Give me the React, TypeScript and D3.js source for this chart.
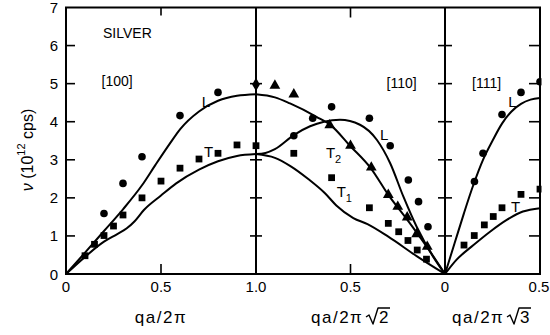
import React from 'react';
import * as d3 from 'd3';

type Pt = [number, number];

// Measured frequencies (10^12 cps) along the three symmetry directions
const l100Obs: Pt[] = [[0.2, 1.59], [0.3, 2.38], [0.4, 3.08], [0.6, 4.16], [0.8, 4.77]];
const t100Obs: Pt[] = [[0.1, 0.48], [0.15, 0.78], [0.2, 1.01], [0.25, 1.26], [0.3, 1.55], [0.4, 2.0], [0.5, 2.44], [0.6, 2.78], [0.7, 3.02], [0.8, 3.17], [0.9, 3.39], [1.0, 3.37]];
const zonePointObs: Pt[] = [[1.0, 4.98]];

const l110Obs: Pt[] = [[0.8, 3.63], [0.7, 4.09], [0.6, 4.39], [0.4, 4.09], [0.29, 3.37], [0.194, 2.47], [0.14, 1.9], [0.09, 1.24]];
const t2110Obs: Pt[] = [[0.9, 4.95], [0.8, 4.72], [0.61, 3.91], [0.5, 3.37], [0.39, 2.8], [0.3, 2.08], [0.25, 1.77], [0.2, 1.49], [0.15, 1.05], [0.094, 0.72]];
const t1110Obs: Pt[] = [[0.8, 3.17], [0.6, 2.53], [0.4, 1.74], [0.3, 1.33], [0.245, 1.11], [0.196, 0.88], [0.147, 0.63], [0.098, 0.39]];

const l111Obs: Pt[] = [[0.155, 2.43], [0.2, 3.17], [0.3, 4.19], [0.4, 4.77], [0.5, 5.05]];
const t111Obs: Pt[] = [[0.1, 0.76], [0.154, 1.01], [0.207, 1.29], [0.254, 1.51], [0.3, 1.74], [0.4, 2.09], [0.5, 2.23]];

// Model dispersion curves
const l100Fit: Pt[] = [[0, 0], [0.1, 0.56], [0.2, 1.13], [0.3, 1.7], [0.4, 2.33], [0.47, 2.86], [0.55, 3.45], [0.6, 3.8], [0.7, 4.27], [0.8, 4.55], [0.9, 4.68], [1.0, 4.72]];
const t100Fit: Pt[] = [[0, 0], [0.1, 0.45], [0.2, 0.85], [0.27, 1.05], [0.32, 1.2], [0.36, 1.38], [0.41, 1.68], [0.5, 2.06], [0.58, 2.38], [0.7, 2.74], [0.8, 2.96], [0.9, 3.1], [1.0, 3.15]];

const l110Fit: Pt[] = [[1.0, 3.15], [0.95, 3.18], [0.9, 3.28], [0.8, 3.65], [0.714, 3.88], [0.64, 4.0], [0.556, 4.05], [0.45, 3.92], [0.36, 3.52], [0.29, 2.91], [0.22, 2.03], [0.15, 1.24], [0.062, 0.45], [0, 0]];
const t2110Fit: Pt[] = [[1.0, 4.72], [0.9, 4.64], [0.82, 4.48], [0.68, 4.13], [0.605, 3.91], [0.503, 3.37], [0.393, 2.78], [0.3, 2.08], [0.2, 1.43], [0.094, 0.7], [0, 0]];
const t1110Fit: Pt[] = [[1.0, 3.15], [0.9, 3.05], [0.82, 2.84], [0.72, 2.48], [0.635, 2.12], [0.575, 1.8], [0.485, 1.47], [0.41, 1.31], [0.3, 0.98], [0.15, 0.47], [0, 0]];

const l111Fit: Pt[] = [[0, 0], [0.05, 0.8], [0.1, 1.6], [0.15, 2.35], [0.2, 3.0], [0.25, 3.5], [0.3, 3.95], [0.35, 4.27], [0.4, 4.47], [0.45, 4.58], [0.5, 4.62]];
const t111Fit: Pt[] = [[0, 0], [0.06, 0.37], [0.15, 0.76], [0.237, 1.11], [0.325, 1.42], [0.41, 1.64], [0.5, 1.73]];

const yTickValues = [0, 1, 2, 3, 4, 5, 6, 7];
const x100Labels = [0, 0.5, 1.0];
const x110Labels = [0.5, 0];
const x111Labels = [0.5];

const FONT = '"Liberation Sans", Arial, Helvetica, sans-serif';

// Axis title of the form qa/2π√n, with a drawn radical sign and vinculum
function RootTitle({ x, n }: { x: number; n: string }) {
  const base = 323;
  return (
    <g>
      <text x={x} y={base} fontFamily={FONT} fontSize={17} letterSpacing={1.5}>qa/2π</text>
      <path
        d={`M${x + 55},${base - 6} L${x + 58},${base - 8} L${x + 62},${base + 1} L${x + 67},${base - 15} L${x + 79},${base - 15}`}
        fill="none" stroke="#000" strokeWidth={1.4} strokeLinejoin="round"
      />
      <text x={x + 68} y={base} fontFamily={FONT} fontSize={17}>{n}</text>
    </g>
  );
}

export default function App() {
  const y = d3.scaleLinear().domain([0, 7]).range([274, 7.5]);
  const x100 = d3.scaleLinear().domain([0, 1]).range([66, 256]);
  const x110 = d3.scaleLinear().domain([1, 0]).range([256, 445]);
  const x111 = d3.scaleLinear().domain([0, 0.5]).range([445, 540]);

  const left = x100(0);
  const mid1 = x100(1);
  const mid2 = x111(0);
  const right = x111(0.5);
  const top = y(7);
  const bottom = y(0);

  const lineOf = (xs: d3.ScaleLinear<number, number>) =>
    d3.line<Pt>().x(d => xs(d[0])).y(d => y(d[1])).curve(d3.curveMonotoneX);

  const curves: { data: Pt[]; xs: d3.ScaleLinear<number, number> }[] = [
    { data: l100Fit, xs: x100 },
    { data: t100Fit, xs: x100 },
    { data: l110Fit, xs: x110 },
    { data: t2110Fit, xs: x110 },
    { data: t1110Fit, xs: x110 },
    { data: l111Fit, xs: x111 },
    { data: t111Fit, xs: x111 },
  ];

  const tri = d3.symbol().type(d3.symbolTriangle).size(50)() as string;
  const sq = d3.symbol().type(d3.symbolSquare).size(46)() as string;
  const dia = d3.symbol().type(d3.symbolDiamond).size(52)() as string;

  const circles = (data: Pt[], xs: d3.ScaleLinear<number, number>, key: string) =>
    data.map((d, i) => <circle key={key + i} cx={xs(d[0])} cy={y(d[1])} r={3.8} fill="#000" />);
  const symbols = (data: Pt[], xs: d3.ScaleLinear<number, number>, path: string, key: string) =>
    data.map((d, i) => <path key={key + i} d={path} transform={`translate(${xs(d[0])},${y(d[1])})`} fill="#000" />);

  const inner = yTickValues.filter(v => v > 0 && v < 7);

  const label = (xs: d3.ScaleLinear<number, number>, q: number, v: number, text: string, sub?: string) => (
    <text x={xs(q)} y={y(v)} fontSize={15} fontFamily={FONT}>
      {text}
      {sub && <tspan fontSize={11} dy={5}>{sub}</tspan>}
    </text>
  );

  return (
    <svg width={550} height={335} style={{ position: 'absolute', left: 0, top: 0, background: '#fff' }}>
      <defs>
        <clipPath id="plotArea">
          <rect x={left} y={top - 10} width={right - left + 1.5} height={bottom - top + 20} />
        </clipPath>
      </defs>
      <rect width={550} height={335} fill="#fff" />

      {/* frame and panel separators */}
      <g stroke="#000" strokeWidth={2} fill="none">
        <rect x={left} y={top} width={right - left} height={bottom - top} />
        <line x1={mid1} x2={mid1} y1={top} y2={bottom} />
        <line x1={mid2} x2={mid2} y1={top} y2={bottom} />
      </g>

      {/* tick marks */}
      <g stroke="#000" strokeWidth={1.6}>
        {inner.map(v => (
          <g key={'t' + v}>
            <line x1={left} x2={left + 9} y1={y(v)} y2={y(v)} />
            <line x1={mid1 - 6} x2={mid1 + 6} y1={y(v)} y2={y(v)} />
            <line x1={mid2 - 7} x2={mid2 + 7} y1={y(v)} y2={y(v)} />
            <line x1={right - 11} x2={right} y1={y(v)} y2={y(v)} />
          </g>
        ))}
        <line x1={x100(0.5)} x2={x100(0.5)} y1={bottom} y2={bottom - 10} />
        <line x1={x110(0.5)} x2={x110(0.5)} y1={bottom} y2={bottom - 10} />
        <line x1={x100(0.5)} x2={x100(0.5)} y1={top} y2={top + 8} />
        <line x1={x110(0.5)} x2={x110(0.5)} y1={top} y2={top + 10} />
      </g>

      {/* y tick labels */}
      <g fontFamily={FONT} fontSize={15} textAnchor="end">
        {yTickValues.map(v => (
          <text key={'yl' + v} x={left - 8} y={y(v) + 5.5}>{v}</text>
        ))}
      </g>

      {/* x tick labels */}
      <g fontFamily={FONT} fontSize={15} textAnchor="middle">
        {x100Labels.map(v => <text key={'a' + v} x={x100(v)} y={292}>{v.toFixed(v === 0 ? 0 : 1)}</text>)}
        {x110Labels.map(v => <text key={'b' + v} x={x110(v)} y={292}>{v === 0 ? '0' : v.toFixed(1)}</text>)}
        {x111Labels.map(v => <text key={'c' + v} x={x111(v) - 1} y={292}>{v.toFixed(1)}</text>)}
      </g>

      {/* axis titles */}
      <text x={161} y={323} fontFamily={FONT} fontSize={17} textAnchor="middle" letterSpacing={1.5}>qa/2π</text>
      <RootTitle x={311} n="2" />
      <RootTitle x={452} n="3" />
      <text transform="translate(33,150) rotate(-90)" textAnchor="middle" fontFamily={FONT} fontSize={16}>
        <tspan fontStyle="italic">ν</tspan> (10<tspan fontSize={11} dy={-8}>12</tspan><tspan dy={8}> cps)</tspan>
      </text>

      {/* panel titles */}
      <g fontFamily={FONT} fontSize={14}>
        <text x={103} y={38}>SILVER</text>
        <text x={101.5} y={86}>[100]</text>
        <text x={386.5} y={88}>[110]</text>
        <text x={472} y={88}>[111]</text>
      </g>

      {/* model curves */}
      <g fill="none" stroke="#000" strokeWidth={2}>
        {curves.map((c, i) => <path key={'c' + i} d={lineOf(c.xs)(c.data) as string} />)}
      </g>

      {/* branch labels */}
      {label(x100, 0.714, 4.39, 'L')}
      {label(x100, 0.726, 3.08, 'T')}
      {label(x110, 0.344, 3.52, 'L')}
      {label(x110, 0.63, 3.05, 'T', '2')}
      {label(x110, 0.573, 2.02, 'T', '1')}
      {label(x111, 0.333, 4.39, 'L')}
      {label(x111, 0.347, 1.64, 'T')}

      {/* measurements */}
      <g clipPath="url(#plotArea)">
        {circles(l100Obs, x100, 'l100')}
        {symbols(t100Obs, x100, sq, 't100')}
        {symbols(zonePointObs, x100, dia, 'zp')}
        {circles(l110Obs, x110, 'l110')}
        {symbols(t2110Obs, x110, tri, 't2')}
        {symbols(t1110Obs, x110, sq, 't1')}
        {circles(l111Obs, x111, 'l111')}
        {symbols(t111Obs, x111, sq, 't111')}
      </g>
    </svg>
  );
}
